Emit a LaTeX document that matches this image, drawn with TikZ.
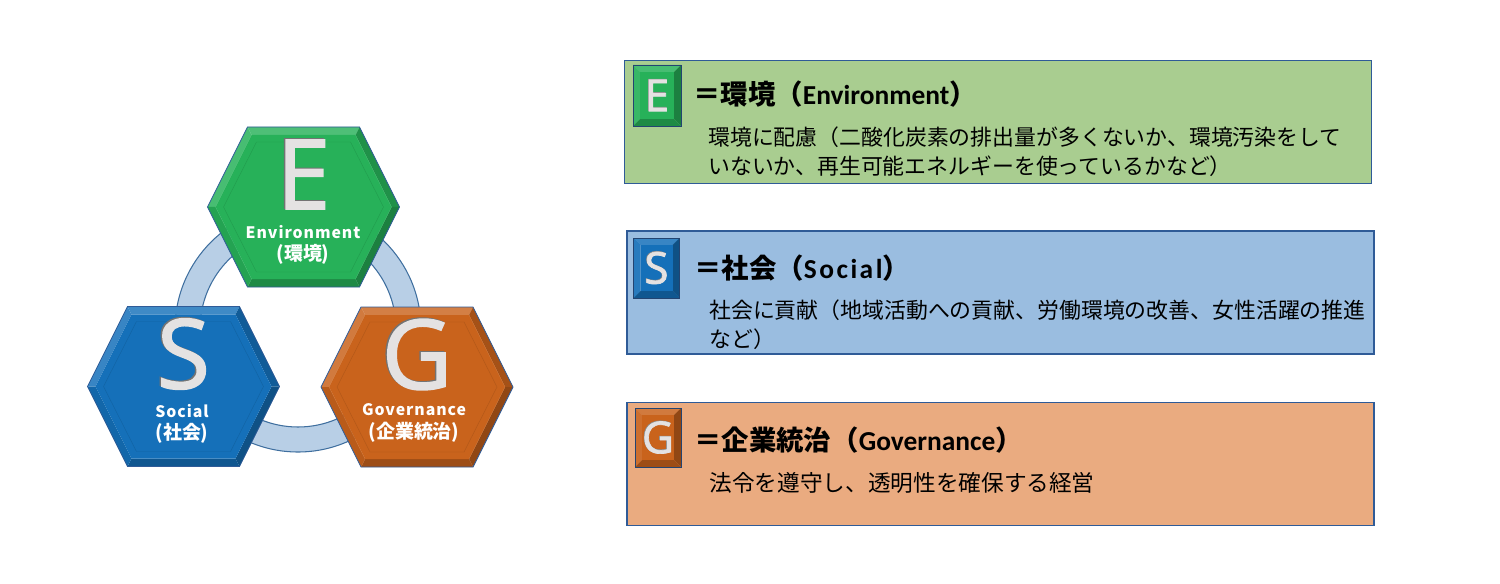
\documentclass[tikz,border=0pt]{standalone}
\usepackage{fontspec}
\usepackage[rgb]{xcolor}
\usepackage{tikz}
\usetikzlibrary{calc}

\setmainfont{Noto Sans CJK JP}
\newfontfamily\letterfont[FakeBold=1.6]{Open Sans}
\newfontfamily\latinfont{Carlito}
\newfontfamily\latinwide[LetterSpace=9]{Carlito}
\newfontfamily\labelfont[LetterSpace=6]{Noto Sans CJK JP}

\definecolor{egreen}{HTML}{27B159}
\definecolor{sblue}{HTML}{1570B9}
\definecolor{gorange}{HTML}{C9631C}
\definecolor{eback}{HTML}{A9CD90}
\definecolor{sback}{HTML}{9ABDE0}
\definecolor{gback}{HTML}{EAAB80}
\definecolor{frameblue}{HTML}{2F5B97}
\definecolor{ringfill}{HTML}{B8CFE6}
\definecolor{ringline}{HTML}{3F6F9F}
\definecolor{lettergrey}{HTML}{E4E2E2}

\tikzset{
  infobox/.style={draw=frameblue,line width=0.7pt,minimum width=14.94cm,minimum height=2.46cm,inner sep=0},
  headtext/.style={anchor=west,inner sep=0,font=\fontsize{15.6}{18}\selectfont\bfseries},
  bodytext/.style={anchor=west,inner sep=0,align=left,font=\fontsize{12.45}{16.5}\selectfont},
  hexlabel/.style={inner sep=0,align=center,text=white,font=\fontsize{9}{12.6}\selectfont\bfseries},
}
\newcommand{\jplabel}[1]{{\fontsize{10.8}{12.6}\selectfont #1}}

% hexagon with bevelled rim: name, x, y, colour, letter
\newcommand{\bevelhex}[5]{
  \begin{scope}[shift={(#2,#3)}]
    \fill[#4!85!white] (-96,0) -- (-56,-80) -- (-52,-72) -- (-88,0) -- cycle;
    \fill[#4!82!white] (-56,-80) -- (56,-80) -- (52,-72) -- (-52,-72) -- cycle;
    \fill[#4!82!black] (56,-80) -- (96,0) -- (88,0) -- (52,-72) -- cycle;
    \fill[#4!72!black] (96,0) -- (56,80) -- (52,72) -- (88,0) -- cycle;
    \fill[#4!78!black] (56,80) -- (-56,80) -- (-52,72) -- (52,72) -- cycle;
    \fill[#4!92!black] (-56,80) -- (-96,0) -- (-88,0) -- (-52,72) -- cycle;
    \fill[#4] (-88,0) -- (-52,-72) -- (52,-72) -- (88,0) -- (52,72) -- (-52,72) -- cycle;
    \draw[#4!88!black,line width=0.25pt] (-80,0) -- (-47,-65) -- (47,-65) -- (80,0) -- (47,65) -- (-47,65) -- cycle;
    \draw[frameblue,line width=0.5pt] (-96,0) -- (-56,-80) -- (56,-80) -- (96,0) -- (56,80) -- (-56,80) -- cycle;
    \node[anchor=base,inner sep=0,text=black!55,font=\fontsize{55}{55}\letterfont] (#1shade) at (-1.5,1) {#5};
    \node[anchor=base,inner sep=0,text=lettergrey,font=\fontsize{55}{55}\letterfont] (#1letter) at (0,2) {#5};
  \end{scope}
}

% small square version: name, x, y, half width, half height, colour, letter
\newcommand{\bevelsquare}[7]{
  \begin{scope}[shift={(#2,#3)}]
    \fill[#6!85!white] (-#4,-#5) -- (#4,-#5) -- (#4-7,-#5+7) -- (-#4+7,-#5+7) -- cycle;
    \fill[#6!92!white] (-#4,-#5) -- (-#4,#5) -- (-#4+7,#5-7) -- (-#4+7,-#5+7) -- cycle;
    \fill[#6!72!black] (#4,-#5) -- (#4,#5) -- (#4-7,#5-7) -- (#4-7,-#5+7) -- cycle;
    \fill[#6!78!black] (-#4,#5) -- (#4,#5) -- (#4-7,#5-7) -- (-#4+7,#5-7) -- cycle;
    \fill[#6] (-#4+7,-#5+7) rectangle (#4-7,#5-7);
    \draw[frameblue!75!black,line width=0.5pt] (-#4,-#5) rectangle (#4,#5);
    \node[inner sep=0,text=black!45,font=\fontsize{25}{25}\letterfont] (#1shade) at (-0.6,-0.6) {#7};
    \node[inner sep=0,text=lettergrey,font=\fontsize{25}{25}\letterfont] (#1letter) at (0,0) {#7};
  \end{scope}
}

\begin{document}
\begin{tikzpicture}[x=0.02cm,y=-0.02cm]
  \useasboundingbox (0,0) rectangle (1500,584);

  % ring behind the hexagons
  \draw[ringline,fill=ringfill,line width=0.6pt,even odd rule] (298,329) circle (123) circle (98);

  \bevelhex{env}{303.5}{207}{egreen}{E}
  \bevelhex{soc}{183.5}{386.5}{sblue}{S}
  \bevelhex{gov}{417}{387}{gorange}{G}

  \node[hexlabel] (envlabel) at (303,245) {{\labelfont Environment}\\\jplabel{(環境)}};
  \node[hexlabel] (soclabel) at (182,424) {{\labelfont Social}\\\jplabel{(社会)}};
  \node[hexlabel] (govlabel) at (414,423) {{\labelfont Governance}\\\jplabel{(企業統治)}};

  % boxes on the right
  \node[infobox,fill=eback] (ebox) at (998,122) {};
  \node[infobox,fill=sback] (sbox) at (1000.5,292.5) {};
  \node[infobox,fill=gback] (gbox) at (1000.5,464) {};

  \bevelsquare{esq}{657}{95.5}{24}{30.5}{egreen}{E}
  \bevelsquare{ssq}{656.5}{268}{23}{30}{sblue}{S}
  \bevelsquare{gsq}{658}{437.5}{23}{29.5}{gorange}{G}

  \node[headtext] (ehead) at (693,94) {＝環境（{\latinfont Environment}）};
  \node[headtext] (shead) at (694,268) {＝社会（{\latinwide Social}）};
  \node[headtext] (ghead) at (694,440) {＝企業統治（{\latinfont Governance}）};

  \node[bodytext] (ebody) at (708,152) {環境に配慮（二酸化炭素の排出量が多くないか、環境汚染をして\\いないか、再生可能エネルギーを使っているかなど）};
  \node[bodytext] (sbody) at (709,325) {社会に貢献（地域活動への貢献、労働環境の改善、女性活躍の推進\\など）};
  \node[bodytext,font=\fontsize{12.9}{16.5}\selectfont] (gbody) at (709,483) {法令を遵守し、透明性を確保する経営};

\end{tikzpicture}
\end{document}
